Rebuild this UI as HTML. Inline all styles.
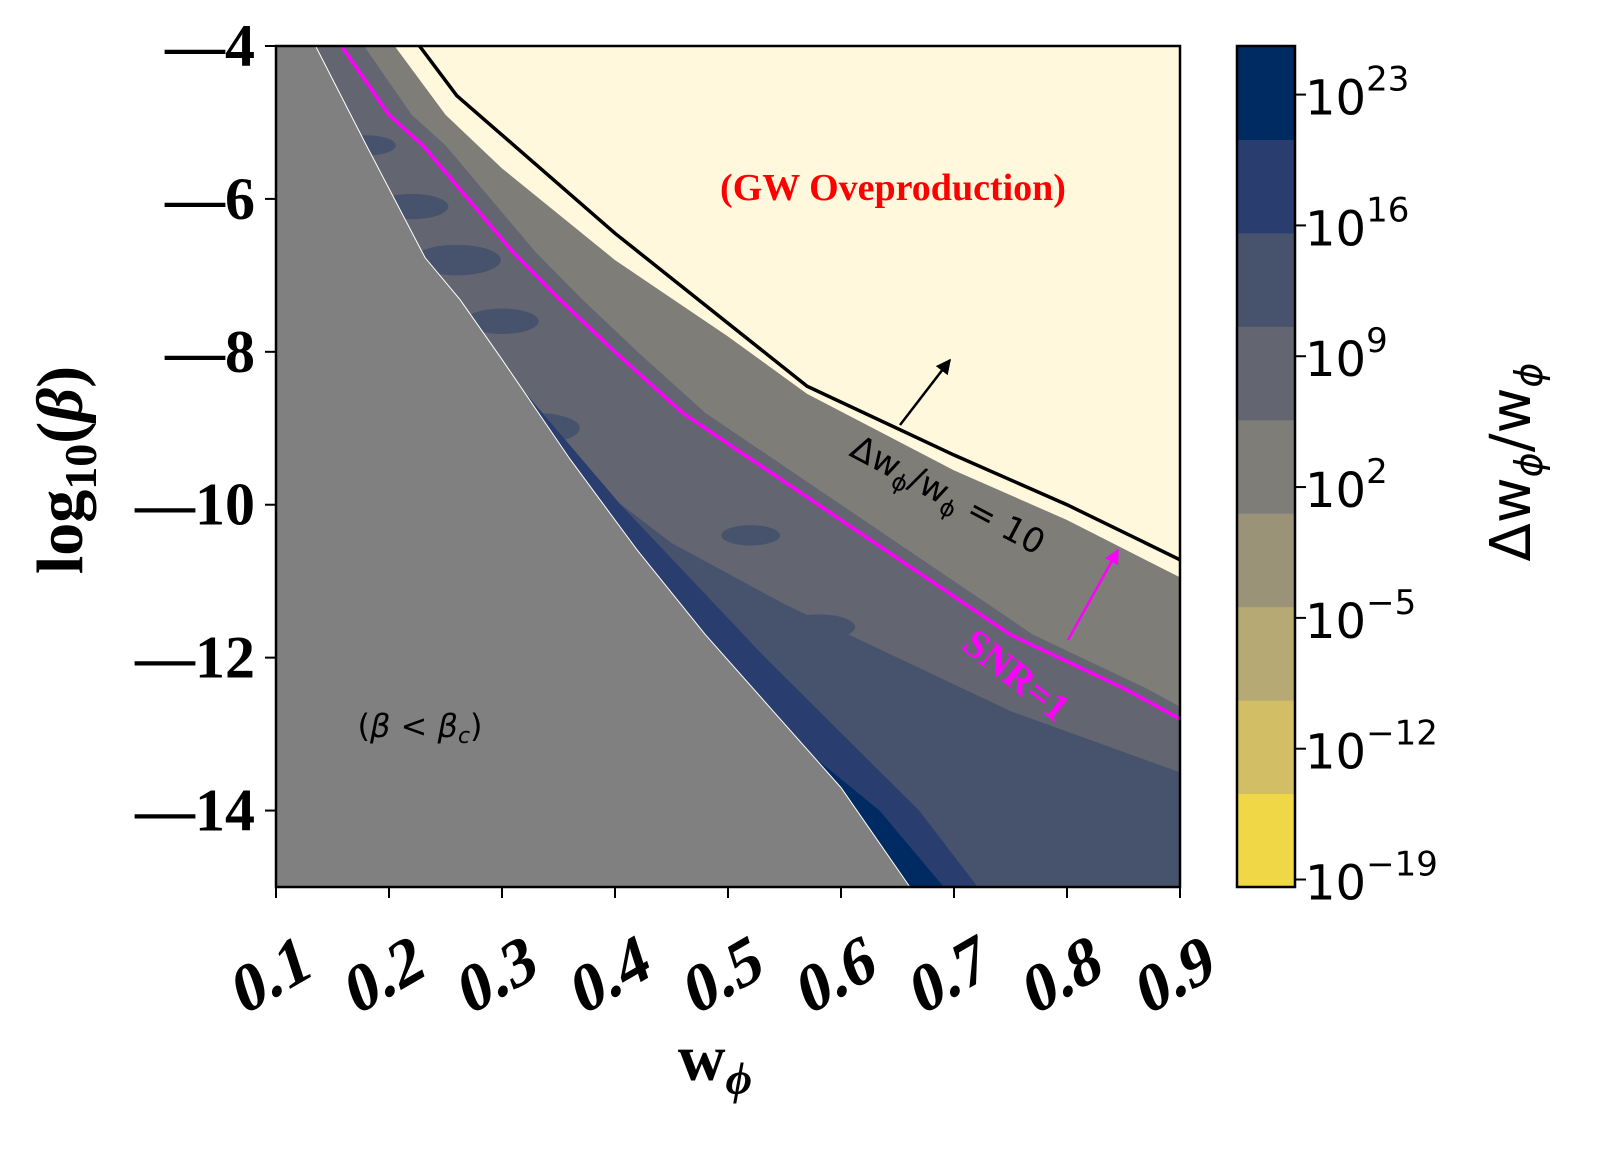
<!DOCTYPE html>
<html><head><meta charset="utf-8"><style>
html,body{margin:0;padding:0;background:#fff;width:1610px;height:1151px;overflow:hidden}
svg text{font-family:"Liberation Serif","DejaVu Serif",serif}
svg text.sans{font-family:"DejaVu Sans","Liberation Sans",sans-serif}
</style></head><body>
<svg id="chart" width="1610" height="1151" viewBox="0 0 1610 1151" xmlns="http://www.w3.org/2000/svg">
<defs><clipPath id="plotclip"><rect x="276" y="46" width="904" height="841"/></clipPath></defs>
<g id="plot" clip-path="url(#plotclip)"></g>
<g id="overlay"></g>
<g id="axes"></g>
<g id="cbar"></g>
</svg>
<script>
// ---- data (w_phi, log10 beta) ----
const xTicks = [0.1,0.2,0.3,0.4,0.5,0.6,0.7,0.8,0.9];
const yTicks = [-4,-6,-8,-10,-12,-14];
const cbTicks = [23,16,9,2,-5,-12,-19];
const cbColors = ["#efd745","#d2be65","#b6a973","#9a9377","#7e7d78","#636670","#47536d","#293d6e","#002b62"];
const critW = [0.135,0.18,0.232,0.263,0.3,0.36,0.42,0.48,0.54,0.6,0.661];
const critB = [-4,-5.3,-6.77,-7.32,-8.1,-9.4,-10.6,-11.7,-12.7,-13.7,-15];
const creamW = [0.205,0.25,0.3,0.4,0.5,0.57,0.7,0.8,0.9];
const creamB = [-4,-4.9,-5.6,-6.8,-7.8,-8.55,-9.55,-10.2,-10.95];
const gwW = [0.227,0.26,0.4,0.57,0.7,0.8,0.9];
const gwB = [-4,-4.65,-6.45,-8.45,-9.35,-10,-10.72];
const snrW = [0.158,0.2,0.23,0.27,0.31,0.35,0.4,0.46,0.53,0.6,0.68,0.75,0.8,0.85,0.9];
const snrB = [-4,-4.9,-5.3,-6,-6.7,-7.3,-8,-8.8,-9.5,-10.2,-11,-11.7,-12.05,-12.4,-12.8];
const midW = [0.3,0.45,0.55,0.65,0.75,0.9];
const midB = [-8.8,-10.5,-11.3,-12.0,-12.7,-13.5];
const stripB = [-8.5,-10,-12,-14,-15];
const stripDW = [0,0.015,0.035,0.055,0.06];
const navyB = [-13.3,-14,-15];
const navyDW = [0,0.02,0.03];
const patchW = [0.18,0.22,0.26,0.3,0.28,0.33,0.36,0.4,0.44,0.52,0.58,0.62,0.7,0.78,0.85,0.72];
const patchB = [-5.3,-6.1,-6.8,-7.6,-8.7,-9.0,-9.8,-10.5,-11.2,-10.4,-11.6,-12.2,-13.0,-13.5,-14.2,-14.6];
const patchR = [0.02,0.025,0.03,0.025,0.02,0.03,0.025,0.03,0.03,0.02,0.025,0.03,0.04,0.04,0.04,0.03];

const X0=276,X1=1180,Y0=46,Y1=887;
const sx=w=>X0+(w-0.1)/0.8*(X1-X0);
const sy=b=>Y0+(-4-b)/11*(Y1-Y0);
const NS="http://www.w3.org/2000/svg";
function mk(tag,attrs,parent){const e=document.createElementNS(NS,tag);for(const k in attrs)e.setAttribute(k,attrs[k]);parent.appendChild(e);return e;}
function interpW(ws,bs,b){for(let i=0;i<bs.length-1;i++){if(b<=bs[i]&&b>=bs[i+1]){const t=(b-bs[i])/(bs[i+1]-bs[i]);return ws[i]+t*(ws[i+1]-ws[i]);}}return ws[ws.length-1];}
const pts=(ws,bs)=>ws.map((w,i)=>sx(w)+","+sy(bs[i])).join(" ");
const plot=document.getElementById('plot');

let r=mk('rect',{x:X0,y:Y0,width:X1-X0,height:Y1-Y0,fill:cbColors[4]},plot);

let sW=snrW.map(w=>w+0.02);
let p=mk('polygon',{points:pts(sW,snrB)+" "+sx(0.95)+","+sy(-12.8)+" "+sx(0.95)+","+sy(-16)+" "+sx(0)+","+sy(-16)+" "+sx(0)+","+sy(-4),fill:cbColors[5]},plot);

p=mk('polygon',{points:pts(midW,midB)+" "+sx(0.95)+","+sy(-13.5)+" "+sx(0.95)+","+sy(-16)+" "+sx(0.3)+","+sy(-16),fill:cbColors[6]},plot);

patchW.forEach((w,i)=>{const e=mk('ellipse',{cx:sx(w),cy:sy(patchB[i]),rx:(sx(w+patchR[i])-sx(w))*1.3,ry:(sx(w+patchR[i])-sx(w))*0.45,fill:cbColors[6]},plot);

});
let sWp=stripB.map((b,i)=>interpW(critW,critB,b)+stripDW[i]);
p=mk('polygon',{points:pts(sWp,stripB)+" "+sx(0.3)+","+sy(-15.5)+" "+sx(0.3)+","+sy(-8.5),fill:cbColors[7]},plot);

let nWp=navyB.map((b,i)=>interpW(critW,critB,b)+navyDW[i]);
p=mk('polygon',{points:pts(nWp,navyB)+" "+sx(0.4)+","+sy(-15.5)+" "+sx(0.4)+","+sy(-13.3),fill:cbColors[8]},plot);

p=mk('polygon',{points:pts(creamW,creamB)+" "+sx(0.95)+","+sy(-10.95)+" "+sx(0.95)+","+sy(-3)+" "+sx(0.2)+","+sy(-3),fill:"#fff8dc"},plot);

p=mk('polygon',{points:pts(critW,critB)+" "+sx(0.661)+","+sy(-16)+" "+sx(0)+","+sy(-16)+" "+sx(0)+","+sy(-3),fill:"#808080",stroke:"#fff","stroke-width":1},plot);

p=mk('polyline',{points:pts(gwW,gwB),fill:"none",stroke:"#000","stroke-width":3.5},plot);

p=mk('polyline',{points:pts(snrW,snrB),fill:"none",stroke:"#ff00ff","stroke-width":3.5,"stroke-linejoin":"round"},plot);


const ov=document.getElementById('overlay');
ov.innerHTML=`
<defs><marker id="ah" viewBox="0 0 10 10" refX="9" refY="5" markerWidth="6" markerHeight="6" orient="auto"><path d="M0,0 L10,5 L0,10 z" fill="#000"/></marker>
<marker id="ahm" viewBox="0 0 10 10" refX="9" refY="5" markerWidth="6" markerHeight="6" orient="auto"><path d="M0,0 L10,5 L0,10 z" fill="#ff00ff"/></marker></defs>
<line x1="900" y1="425" x2="950" y2="360" stroke="#000" stroke-width="2.5" marker-end="url(#ah)"/>
<line x1="1068" y1="640" x2="1118" y2="550" stroke="#ff00ff" stroke-width="2.5" marker-end="url(#ahm)"/>
<text x="893" y="200" font-size="38" font-weight="bold" fill="#ff0000" text-anchor="middle">(GW Oveproduction)</text>
<text class="sans" x="420" y="737" font-size="32" fill="#000" text-anchor="middle">(<tspan font-style="italic">β</tspan> &lt; <tspan font-style="italic">β</tspan><tspan font-size="22" dy="6" font-style="italic">c</tspan><tspan dy="-6">)</tspan></text>
<text class="sans" transform="translate(848,455) rotate(28)" font-size="34" fill="#000">Δw<tspan font-size="23" dy="8">ϕ</tspan><tspan dy="-8">/w</tspan><tspan font-size="23" dy="8">ϕ</tspan><tspan dy="-8"> = 10</tspan></text>
<text transform="translate(960,648) rotate(38)" font-size="40" font-weight="bold" fill="#ff00ff">SNR=1</text>
`;

const ax=document.getElementById('axes');
let fr=mk('rect',{x:X0,y:Y0,width:X1-X0,height:Y1-Y0,fill:"none",stroke:"#000","stroke-width":2.5},ax);

xTicks.forEach(t=>{
 const l=mk('line',{x1:sx(t),x2:sx(t),y1:Y1,y2:Y1+11,stroke:"#000","stroke-width":2},ax);
 
 const tx=mk('text',{transform:`translate(${sx(t)+38},${Y1+88}) rotate(-30) skewX(-12)`,"font-size":"66","font-weight":"bold","text-anchor":"end"},ax);
 tx.textContent=t.toFixed(1);
 
});
yTicks.forEach(t=>{
 const l=mk('line',{x1:X0-11,x2:X0,y1:sy(t),y2:sy(t),stroke:"#000","stroke-width":2},ax);
 
 const tx=mk('text',{x:255,y:sy(t)+20,"font-size":"60","font-weight":"bold","text-anchor":"end"},ax);
 tx.textContent="—"+Math.abs(t);
 
});
let xl=mk('text',{x:715,y:1080,"font-size":"66","font-weight":"bold","text-anchor":"middle"},ax);
xl.innerHTML='w<tspan font-size="46" dy="14" font-style="italic">ϕ</tspan>';

let yl=mk('text',{transform:"translate(82,470) rotate(-90)","font-size":"66","font-weight":"bold","text-anchor":"middle"},ax);
yl.innerHTML='log<tspan font-size="46" dy="14">10</tspan><tspan dy="-14">(</tspan><tspan font-style="italic">β</tspan>)';


const cb=document.getElementById('cbar');
const CX=1237,CW=58,cMin=-19.4,cMax=25.6;
const cy=v=>Y1-(v-cMin)/(cMax-cMin)*(Y1-Y0);
cbColors.forEach((c,i)=>{
 const r=mk('rect',{x:CX,y:cy(cMin+(i+1)*5),width:CW,height:cy(cMin+i*5)-cy(cMin+(i+1)*5)+0.5,fill:c},cb);
 
});
let cf=mk('rect',{x:CX,y:Y0,width:CW,height:Y1-Y0,fill:"none",stroke:"#000","stroke-width":2.5},cb);

cbTicks.forEach(t=>{
 const l=mk('line',{x1:CX+CW,x2:CX+CW+11,y1:cy(t),y2:cy(t),stroke:"#000","stroke-width":2},cb);
 
 const tx=mk('text',{x:1305,y:cy(t)+20,"font-size":"48","class":"sans"},cb);
 tx.innerHTML='10<tspan font-size="34" dy="-24">'+(t<0?'−':'')+Math.abs(t)+'</tspan>';
 
});
let cl=mk('text',{transform:"translate(1530,462) rotate(-90)","font-size":"56","class":"sans","text-anchor":"middle"},cb);
cl.innerHTML='Δw<tspan font-size="38" dy="12" font-style="italic">ϕ</tspan><tspan dy="-12">/w</tspan><tspan font-size="38" dy="12" font-style="italic">ϕ</tspan>';

</script>
</body></html>
